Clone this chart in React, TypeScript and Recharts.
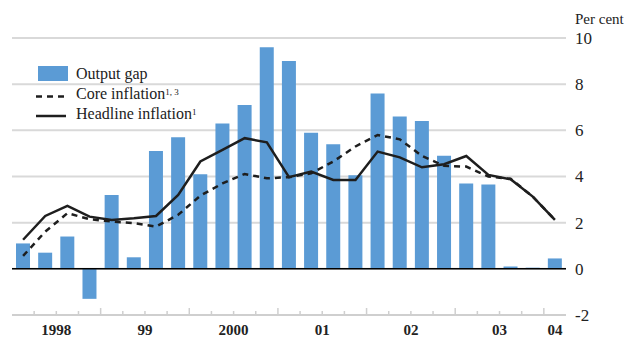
import { ComposedChart, Bar, Line, XAxis, YAxis, CartesianGrid, ReferenceLine } from 'recharts';

// Quarters 1998 Q1 – 2004 Q1
const quarters = [
  '1998Q1', '1998Q2', '1998Q3', '1998Q4',
  '1999Q1', '1999Q2', '1999Q3', '1999Q4',
  '2000Q1', '2000Q2', '2000Q3', '2000Q4',
  '2001Q1', '2001Q2', '2001Q3', '2001Q4',
  '2002Q1', '2002Q2', '2002Q3', '2002Q4',
  '2003Q1', '2003Q2', '2003Q3', '2003Q4',
  '2004Q1',
];
const yearLabels = ['1998', '99', '2000', '01', '02', '03', '04'];

const outputGap = [1.1, 0.7, 1.4, -1.3, 3.2, 0.5, 5.1, 5.7, 4.1, 6.3, 7.1, 9.6, 9.0, 5.9, 5.4, 4.05, 7.6, 6.6, 6.4, 4.9, 3.7, 3.65, 0.1, 0.05, 0.45];
const coreInflation = [0.56, 1.61, 2.41, 2.15, 2.05, 1.98, 1.83, 2.34, 3.17, 3.7, 4.11, 3.92, 3.97, 4.14, 4.65, 5.3, 5.8, 5.61, 4.89, 4.46, 4.43, 4.0, 3.9, 3.13, 2.12];
const headlineInflation = [1.26, 2.29, 2.73, 2.26, 2.12, 2.19, 2.29, 3.2, 4.65, 5.15, 5.66, 5.48, 3.97, 4.21, 3.85, 3.85, 5.08, 4.83, 4.4, 4.53, 4.89, 4.07, 3.88, 3.13, 2.12];
const yTicks = [-2, 0, 2, 4, 6, 8, 10];

const data = quarters.map((q, i) => ({
  q,
  gap: outputGap[i],
  core: coreInflation[i],
  headline: headlineInflation[i],
}));

const FONT = '"Liberation Serif", "Times New Roman", serif';
const BLUE = '#5b9bd5';
const INK = '#1e1e1e';

// boundary tick marks (taller at year starts) + year labels centred on their quarters
function XTick(props: any) {
  const { x, y, payload, index } = props;
  const off = payload?.offset ?? 11.08;
  const n = quarters.length;
  const q = index % 4;
  const year = Math.floor(index / 4);
  let labelX: number | null = null;
  if (q === 1 && index + 2 < n) labelX = x + off;
  if (q === 0 && index === n - 1) labelX = x;
  return (
    <g>
      {index > 0 && (
        <line x1={x - off} x2={x - off} y1={y} y2={y - (q === 0 ? 7 : 4)} stroke="#cfcfcf" strokeWidth={1.5} />
      )}
      {labelX !== null && (
        <text x={labelX} y={y + 20} textAnchor="middle" style={{ fontFamily: FONT }} fontWeight="bold" fontSize={15} fill="#222">
          {yearLabels[year]}
        </text>
      )}
    </g>
  );
}

function YTick(props: any) {
  const { x, y, payload } = props;
  return (
    <text x={x + 1} y={y} dy="0.35em" textAnchor="start" style={{ fontFamily: FONT }} fontSize={17} fill="#222">
      {payload.value}
    </text>
  );
}

function LegendBox() {
  return (
    <svg width={220} height={72} style={{ display: 'block' }}>
      <rect x={8} y={8} width={30} height={15} fill={BLUE} />
      <text x={46} y={20.5} style={{ fontFamily: FONT }} fontSize={16} fill="#222">Output gap</text>
      <line x1={6} x2={34} y1={38.5} y2={38.5} stroke={INK} strokeWidth={2.5} strokeDasharray="6 5" />
      <text x={46} y={41} style={{ fontFamily: FONT }} fontSize={16} fill="#222">
        Core inflation<tspan fontSize={9} dy={-4}>1, 3</tspan>
      </text>
      <line x1={6} x2={36} y1={58} y2={58} stroke={INK} strokeWidth={2.5} />
      <text x={46} y={60.5} style={{ fontFamily: FONT }} fontSize={16} fill="#222">
        Headline inflation<tspan fontSize={9} dy={-4}>1</tspan>
      </text>
    </svg>
  );
}

export default function App() {
  return (
    <div style={{ position: 'absolute', left: 0, top: 0, width: 638, height: 338, background: '#fff', fontFamily: FONT }}>
      <ComposedChart width={638} height={338} data={data} margin={{ top: 38, right: 0, left: 12, bottom: 0 }}>
        <CartesianGrid vertical={false} stroke="#d9d9d9" strokeWidth={2} />
        <XAxis
          dataKey="q"
          height={23}
          interval={0}
          tickLine={false}
          tickSize={0}
          tickMargin={0}
          axisLine={{ stroke: '#cfcfcf', strokeWidth: 2 }}
          tick={<XTick />}
        />
        <YAxis
          orientation="right"
          domain={[-2, 10]}
          ticks={yTicks}
          width={72}
          axisLine={false}
          tickLine={false}
          tick={<YTick />}
        />
        <Bar dataKey="gap" name="Output gap" fill={BLUE} barSize={14} isAnimationActive={false} />
        <ReferenceLine y={0} stroke="#000" strokeWidth={1.5} />
        <Line dataKey="core" name="Core inflation" type="linear" stroke={INK} strokeWidth={2.5} strokeDasharray="6 5" dot={false} isAnimationActive={false} />
        <Line dataKey="headline" name="Headline inflation" type="linear" stroke={INK} strokeWidth={2.5} dot={false} isAnimationActive={false} />
      </ComposedChart>
      <div style={{ position: 'absolute', left: 575, top: 10, fontSize: 15, color: '#222', lineHeight: '18px' }}>
        Per cent
      </div>
      <div style={{ position: 'absolute', left: 30, top: 58 }}>
        <LegendBox />
      </div>
    </div>
  );
}
